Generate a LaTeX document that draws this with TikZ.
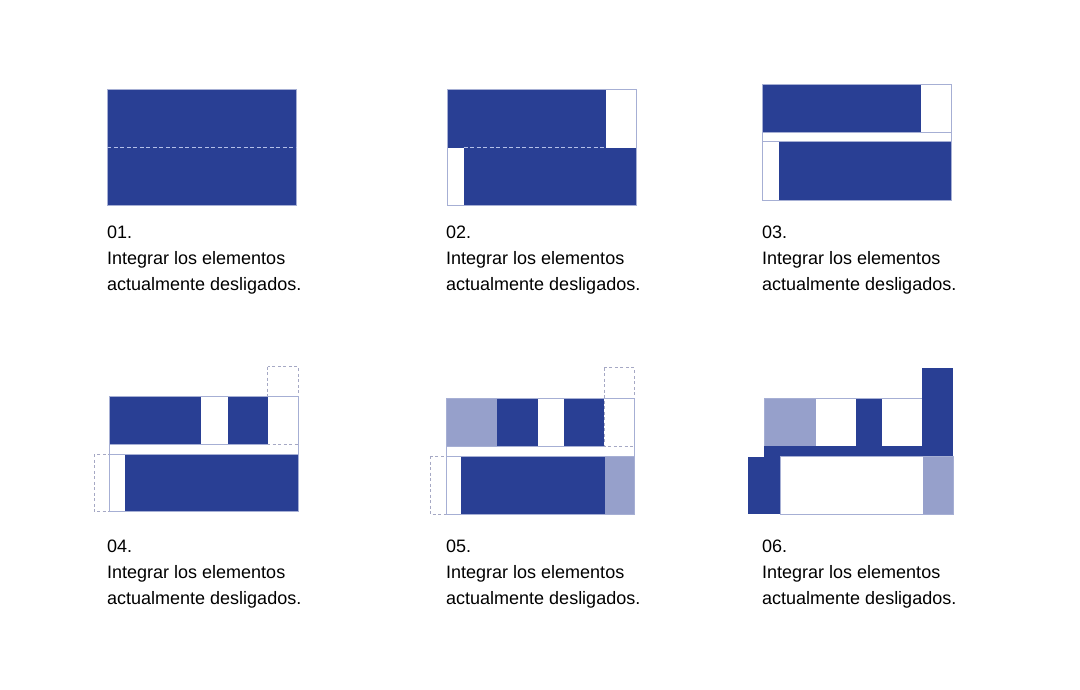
\documentclass[tikz,border=0pt]{standalone}
\usepackage{fontspec}
\newfontfamily\capfont{Liberation Sans}
\definecolor{dkblue}{RGB}{41,63,148}
\definecolor{ltblue}{RGB}{150,160,203}
\definecolor{olgray}{RGB}{166,175,212}
\definecolor{ghgray}{RGB}{165,168,196}
\definecolor{dashlt}{RGB}{180,192,232}

\begin{document}
\begin{tikzpicture}[x=1pt, y=-1pt, line join=miter,
    dk/.style={fill=dkblue},
    lt/.style={fill=ltblue},
    ol/.style={draw=olgray, line width=1pt},
    gh/.style={draw=ghgray, line width=1pt, dash pattern=on 3pt off 2.5pt},
    seam/.style={draw=dashlt, line width=1.3pt, dash pattern=on 4pt off 2.5pt},
    lbl/.style={anchor=base west, inner sep=0pt, font=\capfont\fontsize{18}{22}\selectfont}]

  % ════ 01 ════
  \fill[dk] (107.3,90) rectangle (296.3,206);
  \draw[ol] (107.3,90) rectangle (296.3,206);
  \draw[seam] (107.3,147.7) -- (296.3,147.7);

  % ════ 02 ════
  \fill[dk] (447.3,90) rectangle (606,147.7);
  \fill[dk] (463.7,147.7) rectangle (636.3,206);
  \draw[ol] (447.3,90) rectangle (636.3,206);
  \draw[seam] (463.7,147.7) -- (606,147.7);

  % ════ 03 ════
  \fill[dk] (762.3,84.3) rectangle (921,132.3);
  \fill[dk] (778.7,141.7) rectangle (951.3,200.3);
  \draw[ol] (762.3,84.3) rectangle (951.3,200.3);
  \draw[ol] (762.3,132.3) -- (951.3,132.3);
  \draw[ol] (762.3,141.7) -- (951.3,141.7);

  % ════ 04 ════
  \draw[gh] (267.7,366.7) rectangle (298.3,444.3);   % 上移的方块
  \draw[gh] (94,454.3)    rectangle (125,511.7);     % 左移的方块
  \fill[dk] (109.3,396.7) rectangle (201.3,444.3);
  \fill[dk] (227.7,396.7) rectangle (267.7,444.3);
  \fill[dk] (125,454.3)   rectangle (298.3,511.7);
  \draw[ol] (109.3,396.7) rectangle (298.3,511.7);
  \draw[ol] (109.3,444.3) -- (267.7,444.3);
  \draw[ol] (109.3,454.3) -- (298.3,454.3);

  % ════ 05 ════
  \draw[gh] (604,367.7) rectangle (634.3,446);
  \draw[gh] (430,456)   rectangle (461.3,514);
  \fill[lt] (446,398.3)   rectangle (497.3,446);
  \fill[dk] (497.3,398.3) rectangle (538.3,446);
  \fill[dk] (564,398.3)   rectangle (604,446);
  \fill[dk] (461.3,456)   rectangle (605,514);
  \fill[lt] (605,456)     rectangle (634.3,514);
  \draw[ol] (446,398.3) rectangle (634.3,514);
  \draw[ol] (446,446) -- (604,446);
  \draw[ol] (446,456) -- (634.3,456);

  % ════ 06 ════
  \fill[lt] (764,398.3)   rectangle (816,446);
  \fill[dk] (856,398.3)   rectangle (882,446);
  \fill[dk] (922.3,368.3) rectangle (953,456.7);
  \fill[dk] (764,446)     rectangle (953,456.7);
  \fill[dk] (748.3,456.7) rectangle (780,514.3);
  \fill[lt] (922.7,456.7) rectangle (953,514.3);
  \draw[ol] (764,446) -- (764,398.3) -- (922.3,398.3);
  \draw[ol] (780,456.7) rectangle (953,514.3);

  % ════ 标签 ════
  \foreach \n/\x/\y in {01/107/239, 02/446/239, 03/762/239,
                        04/107/552.5, 05/446/552.5, 06/762/552.5}{%
    \node[lbl] (t\n-a) at (\x,\y)      {\n.};
    \node[lbl] (t\n-b) at (\x,\y+25.8) {Integrar los elementos};
    \node[lbl] (t\n-c) at (\x,\y+51.6) {actualmente desligados.};}

  \path[use as bounding box] (0,0) rectangle (1080,690);
\end{tikzpicture}
\end{document}
